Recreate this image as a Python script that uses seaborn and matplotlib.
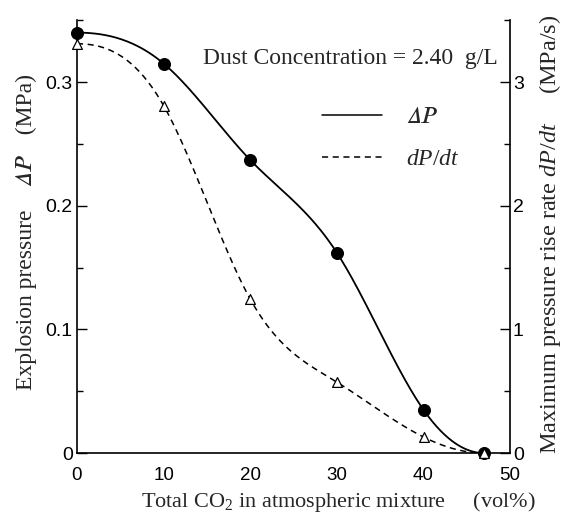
import numpy as np
import matplotlib
matplotlib.use("Agg")
import matplotlib.pyplot as plt
import seaborn as sns
import pandas as pd
from matplotlib.lines import Line2D
from matplotlib.ticker import MultipleLocator

co2 = [0, 10, 20, 30, 40, 47]
delta_p = [0.340, 0.315, 0.237, 0.162, 0.035, 0.0]
dpdt = [3.31, 2.81, 1.245, 0.574, 0.13, 0.0]


def clamped_spline(x, y, n=300):
    x = np.asarray(x, float)
    y = np.asarray(y, float)
    m = len(x)
    h = np.diff(x)
    A = np.zeros((m, m))
    b = np.zeros(m)
    A[0, 0] = 2 * h[0]; A[0, 1] = h[0]
    b[0] = 3 * ((y[1] - y[0]) / h[0] - 0.0)
    A[-1, -2] = h[-1]; A[-1, -1] = 2 * h[-1]
    b[-1] = 3 * (0.0 - (y[-1] - y[-2]) / h[-1])
    for i in range(1, m - 1):
        A[i, i - 1] = h[i - 1]
        A[i, i] = 2 * (h[i - 1] + h[i])
        A[i, i + 1] = h[i]
        b[i] = 3 * ((y[i + 1] - y[i]) / h[i] - (y[i] - y[i - 1]) / h[i - 1])
    c = np.linalg.solve(A, b)
    xs = np.linspace(x[0], x[-1], n)
    ys = np.empty_like(xs)
    for k, xv in enumerate(xs):
        i = min(np.searchsorted(x, xv, side="right") - 1, m - 2)
        dx = xv - x[i]
        bi = (y[i + 1] - y[i]) / h[i] - h[i] * (2 * c[i] + c[i + 1]) / 3
        di = (c[i + 1] - c[i]) / (3 * h[i])
        ys[k] = y[i] + bi * dx + c[i] * dx ** 2 + di * dx ** 3
    return xs, ys


sns.set_theme(style="white")
plt.rcParams["font.family"] = ["Liberation Serif", "STIXGeneral", "DejaVu Serif"]
plt.rcParams["mathtext.fontset"] = "custom"
plt.rcParams["mathtext.rm"] = "Liberation Serif"
plt.rcParams["mathtext.it"] = "Liberation Serif:italic"
plt.rcParams["mathtext.bf"] = "Liberation Serif:bold"

fig = plt.figure(figsize=(5.70, 5.19), dpi=100)
ax = fig.add_axes([0.135, 0.127, 0.76, 0.834])
ax2 = ax.twinx()

df = pd.DataFrame({"co2": co2, "dp": delta_p, "rate": dpdt})
xs1, ys1 = clamped_spline(co2, delta_p)
xs2, ys2 = clamped_spline(co2, dpdt)

sns.lineplot(x=xs1, y=ys1, ax=ax, color="black", lw=1.3)
sns.scatterplot(data=df, x="co2", y="dp", ax=ax, color="black", s=75, marker="o",
                edgecolor="black", zorder=5, clip_on=False)
sns.lineplot(x=xs2, y=ys2, ax=ax2, color="black", lw=1.1, linestyle=(0, (4, 3)))
sns.scatterplot(data=df, x="co2", y="rate", ax=ax2, color="white", s=50, marker="^",
                edgecolor="black", linewidth=0.9, zorder=5, clip_on=False)

ax.set_xlim(0, 50)
ax.set_ylim(0, 0.35)
ax2.set_ylim(0, 3.5)

for a in (ax, ax2):
    a.spines["top"].set_visible(False)
    for s in a.spines.values():
        s.set_linewidth(1.2)
        s.set_color("black")
ax.spines["right"].set_visible(False)
ax2.spines["left"].set_visible(False)
ax2.spines["bottom"].set_visible(False)

ax.xaxis.set_minor_locator(MultipleLocator(5))
ax.yaxis.set_minor_locator(MultipleLocator(0.05))
ax2.yaxis.set_minor_locator(MultipleLocator(0.5))
ax.set_xticks([0, 10, 20, 30, 40, 50])
ax.set_xticklabels(["0", "10", "20", "30", "40", "50"])
ax.set_yticks([0, 0.1, 0.2, 0.3])
ax.set_yticklabels(["0", "0.1", "0.2", "0.3"])
ax2.set_yticks([0, 1, 2, 3])
ax2.set_yticklabels(["0", "1", "2", "3"])

for a in (ax, ax2):
    a.tick_params(which="major", direction="in", length=7, width=1.0, colors="black",
                  labelsize=14, pad=3)
    a.tick_params(which="minor", direction="in", length=4, width=1.0, colors="black")
    for lab in a.get_xticklabels() + a.get_yticklabels():
        lab.set_family(["Liberation Sans", "DejaVu Sans"])
ax.tick_params(axis="x", pad=10, labelsize=13.5)
ax2.tick_params(axis="y", pad=2)

ax.set_xlabel("Total CO$_2$ in atmospheric mixture     (vol%)", fontsize=16)
ax.xaxis.set_label_coords(0.603, -0.085)
ax.set_ylabel("Explosion pressure    \U0001D6E5\U0001D443    (MPa)", fontsize=17)
ax.yaxis.set_label_coords(-0.092, 0.51)
ax2.set_ylabel("Maximum pressure rise rate $\\mathit{dP/dt}$     (MPa/s)", fontsize=17.5)
ax2.yaxis.set_label_coords(1.063, 0.505)

ax.text(0.972, 0.912, "Dust Concentration = 2.40  g/L", transform=ax.transAxes,
        ha="right", va="center", fontsize=17)

handles = [Line2D([], [], color="black", lw=1.1),
           Line2D([], [], color="black", lw=1.1, linestyle=(0, (4, 3)))]
ax.legend(handles, ["\U0001D6E5\U0001D443", "$\\mathit{dP/dt}$"], frameon=False,
          loc="upper left", bbox_to_anchor=(0.566, 0.80), borderaxespad=0, borderpad=0,
          handlelength=2.55, handletextpad=1.0, labelspacing=0.85, fontsize=17)

fig.savefig("out.png", dpi=100)
